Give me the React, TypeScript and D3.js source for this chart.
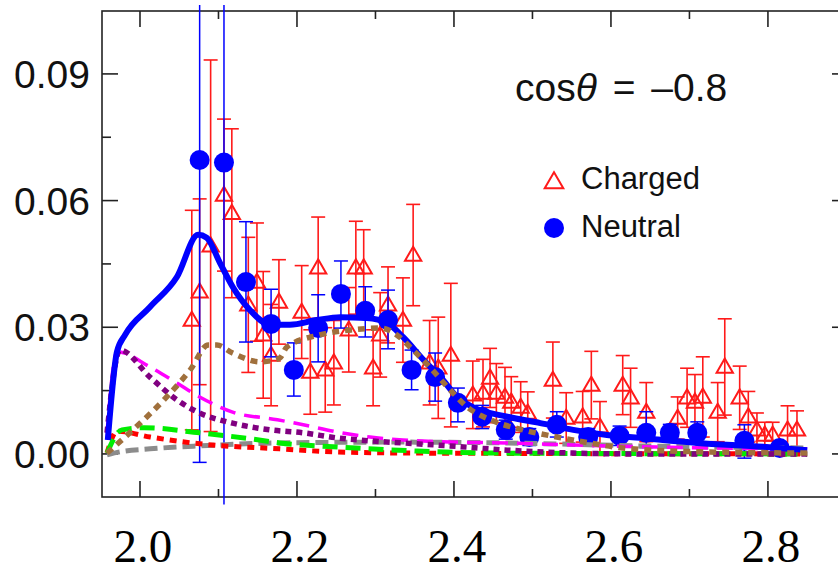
import React, { useEffect, useRef } from 'react';
import * as d3 from 'd3';

// neutral channel (blue dots)
const neutralX = [2.076, 2.107, 2.135, 2.167, 2.196, 2.227, 2.256, 2.287, 2.316, 2.346, 2.376, 2.405, 2.436, 2.466, 2.496, 2.531, 2.571, 2.611, 2.645, 2.675, 2.71, 2.77, 2.815];
const neutralY = [0.0696, 0.069, 0.0407, 0.0308, 0.0199, 0.0298, 0.0379, 0.0339, 0.0317, 0.0199, 0.0182, 0.0121, 0.0088, 0.0057, 0.004, 0.0069, 0.004, 0.0043, 0.005, 0.005, 0.005, 0.0031, 0.0014];
const neutralLo = [-0.002, -0.012, 0.0265, 0.023, 0.0137, 0.0218, 0.0298, 0.0277, 0.0249, 0.0152, 0.0125, 0.0076, 0.006, 0.0035, 0.002, 0.004, 0.002, 0.002, 0.0015, 0.003, 0.003, -0.001, 0.0];
const neutralHi = [0.1063, 0.1063, 0.055, 0.039, 0.0263, 0.0377, 0.0457, 0.0396, 0.0388, 0.0246, 0.0239, 0.0156, 0.0115, 0.008, 0.006, 0.01, 0.006, 0.0066, 0.01, 0.007, 0.0076, 0.0069, 0.0025];

// charged channel (red open triangles)
const chargedX = [2.066, 2.076, 2.09, 2.107, 2.117, 2.138, 2.149, 2.157, 2.167, 2.177, 2.206, 2.217, 2.227, 2.236, 2.247, 2.266, 2.275, 2.285, 2.297, 2.306, 2.316, 2.335, 2.348, 2.369, 2.38, 2.396, 2.424, 2.437, 2.446, 2.454, 2.465, 2.473, 2.485, 2.494, 2.526, 2.543, 2.564, 2.575, 2.586, 2.615, 2.625, 2.645, 2.685, 2.697, 2.707, 2.717, 2.736, 2.745, 2.764, 2.775, 2.786, 2.796, 2.806, 2.825, 2.837];
const chargedY = [0.0317, 0.0384, 0.0493, 0.0613, 0.057, 0.0353, 0.0407, 0.0282, 0.0234, 0.036, 0.0336, 0.0194, 0.0441, 0.0199, 0.0216, 0.0294, 0.0441, 0.0441, 0.0204, 0.0282, 0.0353, 0.0317, 0.0471, 0.0216, 0.0204, 0.0234, 0.014, 0.0144, 0.018, 0.0144, 0.0135, 0.0123, 0.0111, 0.0097, 0.0175, 0.0085, 0.0088, 0.0163, 0.0064, 0.0163, 0.0133, 0.0099, 0.0085, 0.0133, 0.0123, 0.0135, 0.0099, 0.0206, 0.0133, 0.0088, 0.0057, 0.0045, 0.0045, 0.0057, 0.0057];
const chargedErr = [0.026, 0.022, 0.044, 0.018, 0.02, 0.016, 0.014, 0.015, 0.012, 0.01, 0.011, 0.01, 0.012, 0.01, 0.01, 0.01, 0.011, 0.009, 0.009, 0.01, 0.009, 0.01, 0.012, 0.01, 0.012, 0.017, 0.008, 0.008, 0.007, 0.007, 0.007, 0.006, 0.006, 0.005, 0.009, 0.006, 0.006, 0.008, 0.006, 0.007, 0.007, 0.007, 0.005, 0.007, 0.0065, 0.0095, 0.007, 0.0114, 0.0075, 0.006, 0.004, 0.003, 0.003, 0.0057, 0.0045];

// model curves [x, y]
const totalCurve = [[1.959, 0.0033], [1.9707, 0.0242], [1.981, 0.0282], [2.0127, 0.0348], [2.047, 0.0419], [2.074, 0.0519], [2.085, 0.0512], [2.102, 0.0452], [2.118, 0.0396], [2.14, 0.0341], [2.166, 0.0306], [2.191, 0.0306], [2.225, 0.0317], [2.255, 0.0324], [2.289, 0.0322], [2.315, 0.031], [2.335, 0.0277], [2.361, 0.0223], [2.386, 0.0175], [2.404, 0.0135], [2.424, 0.0111], [2.468, 0.0088], [2.51, 0.0073], [2.552, 0.0057], [2.595, 0.0045], [2.637, 0.0038], [2.71, 0.0026], [2.794, 0.0017], [2.85, 0.0009]];
const magentaCurve = [[1.958, 0.005], [1.9707, 0.0242], [2.0127, 0.0206], [2.047, 0.0168], [2.076, 0.0135], [2.118, 0.0099], [2.175, 0.0081], [2.208, 0.0069], [2.251, 0.0052], [2.293, 0.004], [2.335, 0.0033], [2.395, 0.0028], [2.468, 0.0026], [2.552, 0.0021], [2.637, 0.0017], [2.85, 0.0012]];
const purpleCurve = [[1.958, 0.005], [1.9745, 0.0246], [2.0127, 0.0182], [2.047, 0.0128], [2.076, 0.0097], [2.118, 0.0073], [2.166, 0.0057], [2.208, 0.005], [2.251, 0.0038], [2.293, 0.0031], [2.335, 0.0026], [2.395, 0.0019], [2.468, 0.0009], [2.552, 0.0002], [2.637, 0.0], [2.85, 0.0]];
const brownCurve = [[1.958, 0.0002], [1.991, 0.0057], [2.034, 0.0135], [2.064, 0.0199], [2.087, 0.0258], [2.098, 0.0258], [2.118, 0.0239], [2.153, 0.0218], [2.178, 0.0227], [2.187, 0.0253], [2.229, 0.0282], [2.271, 0.0294], [2.306, 0.0298], [2.327, 0.0282], [2.348, 0.0246], [2.369, 0.0206], [2.395, 0.0152], [2.417, 0.0111], [2.446, 0.0081], [2.488, 0.0057], [2.531, 0.004], [2.573, 0.0026], [2.615, 0.0014], [2.713, 0.0005], [2.85, 0.0002]];
const greenCurve = [[1.958, 0.0002], [1.977, 0.0057], [2.006, 0.0062], [2.076, 0.005], [2.14, 0.0036], [2.178, 0.0026], [2.246, 0.0017], [2.353, 0.0007], [2.459, 0.0002], [2.85, 0.0]];
const redCurve = [[1.958, 0.0002], [1.971, 0.0054], [2.013, 0.004], [2.076, 0.0024], [2.178, 0.0012], [2.246, 0.0005], [2.353, 0.0002], [2.85, 0.0]];
const grayCurve = [[1.958, -0.0002], [1.9745, 0.0005], [2.013, 0.0012], [2.076, 0.0019], [2.178, 0.0026], [2.331, 0.0028], [2.468, 0.0026], [2.637, 0.0019], [2.85, 0.0014]];

const xTickLabels = ['2.0', '2.2', '2.4', '2.6', '2.8'];
const yTickLabels = ['0.00', '0.03', '0.06', '0.09'];

export default function App() {
  const ref = useRef(null);

  useEffect(() => {
    const width = 838;
    const height = 573;
    const left = 102, right = 848, top = 11, bottom = 497;

    const svg = d3.select(ref.current);
    svg.selectAll('*').remove();

    const x = d3.scaleLinear().domain([1.9516, 2.902]).range([left, right]);
    const y = d3.scaleLinear().domain([-0.0102, 0.1049]).range([bottom, top]);

    const sans = 'Liberation Sans, Arial, sans-serif';
    const serif = 'Liberation Serif, Times New Roman, serif';

    // frame
    svg.append('rect')
      .attr('x', left).attr('y', top)
      .attr('width', right - left).attr('height', bottom - top)
      .attr('fill', 'none').attr('stroke', '#222').attr('stroke-width', 1.6);

    // x ticks (inward, top and bottom)
    const xt = d3.range(20, 29).map(d => d / 10);
    xt.forEach((t, i) => {
      const len = i % 2 === 0 ? 16 : 8;
      svg.append('line').attr('x1', x(t)).attr('x2', x(t)).attr('y1', bottom).attr('y2', bottom - len)
        .attr('stroke', '#222').attr('stroke-width', 1.6);
      svg.append('line').attr('x1', x(t)).attr('x2', x(t)).attr('y1', top).attr('y2', top + len)
        .attr('stroke', '#222').attr('stroke-width', 1.6);
    });
    xTickLabels.forEach(lab => {
      svg.append('text').attr('x', x(+lab) + 3).attr('y', 562)
        .attr('text-anchor', 'middle').attr('font-family', serif).attr('font-size', 47)
        .attr('fill', '#000').text(lab);
    });

    // y ticks
    const yt = d3.range(0, 7).map(d => d * 0.015);
    yt.forEach((t, i) => {
      const len = i % 2 === 0 ? 16 : 9;
      svg.append('line').attr('x1', left).attr('x2', left + len).attr('y1', y(t)).attr('y2', y(t))
        .attr('stroke', '#222').attr('stroke-width', 1.6);
      svg.append('line').attr('x1', right).attr('x2', right - len).attr('y1', y(t)).attr('y2', y(t))
        .attr('stroke', '#222').attr('stroke-width', 1.6);
    });
    yTickLabels.forEach(lab => {
      svg.append('text').attr('x', 90).attr('y', y(+lab) + 14)
        .attr('text-anchor', 'end').attr('font-family', sans).attr('font-size', 39)
        .attr('fill', '#111').text(lab);
    });

    // charged data
    const cap = 7;
    const charged = chargedX.map((cx, i) => ({ x: cx, y: chargedY[i], e: chargedErr[i] }));
    const cg = svg.append('g').attr('stroke', '#ff1a1a').attr('stroke-width', 1.6).attr('fill', 'none');
    charged.forEach(d => {
      const px = x(d.x);
      const y1 = y(d.y + d.e), y0 = y(d.y - d.e);
      cg.append('line').attr('x1', px).attr('x2', px).attr('y1', y1).attr('y2', y0);
      cg.append('line').attr('x1', px - cap).attr('x2', px + cap).attr('y1', y1).attr('y2', y1);
      cg.append('line').attr('x1', px - cap).attr('x2', px + cap).attr('y1', y0).attr('y2', y0);
    });
    const tri = d3.symbol().type(d3.symbolTriangle).size(115);
    cg.selectAll('path.tri').data(charged).enter().append('path')
      .attr('transform', d => `translate(${x(d.x)},${y(d.y) + 1})`)
      .attr('d', tri).attr('stroke-width', 2);

    // neutral data
    const neutral = neutralX.map((nx, i) => ({ x: nx, y: neutralY[i], lo: neutralLo[i], hi: neutralHi[i] }));
    const ng = svg.append('g');
    neutral.forEach(d => {
      const px = x(d.x);
      const y1 = y(d.hi), y0 = y(d.lo);
      ng.append('line').attr('x1', px).attr('x2', px).attr('y1', y1).attr('y2', y0)
        .attr('stroke', '#0000ff').attr('stroke-width', 1.5);
      if (d.hi < 0.1) ng.append('line').attr('x1', px - cap).attr('x2', px + cap).attr('y1', y1).attr('y2', y1)
        .attr('stroke', '#0000ff').attr('stroke-width', 1.5);
      if (d.lo > -0.01) ng.append('line').attr('x1', px - cap).attr('x2', px + cap).attr('y1', y0).attr('y2', y0)
        .attr('stroke', '#0000ff').attr('stroke-width', 1.5);
    });
    ng.selectAll('circle').data(neutral).enter().append('circle')
      .attr('cx', d => x(d.x)).attr('cy', d => y(d.y)).attr('r', 10).attr('fill', '#0000ff');

    // model curves
    const line = d3.line().x(d => x(d[0])).y(d => y(d[1])).curve(d3.curveMonotoneX);
    const curves = [
      { data: grayCurve, color: '#8c8c8c', w: 5, dash: '13,6' },
      { data: redCurve, color: '#ff0000', w: 5, dash: '7,6' },
      { data: greenCurve, color: '#00ee00', w: 5, dash: '15,8' },
      { data: magentaCurve, color: '#ff00ff', w: 3.5, dash: '16,9' },
      { data: purpleCurve, color: '#800080', w: 5.5, dash: '6,5' },
      { data: totalCurve, color: '#0000ff', w: 6, dash: null },
      { data: brownCurve, color: '#a0703c', w: 5.5, dash: '7,6' },
    ];
    curves.forEach(c => {
      svg.append('path').datum(c.data)
        .attr('fill', 'none').attr('stroke', c.color).attr('stroke-width', c.w)
        .attr('stroke-dasharray', c.dash)
        .attr('d', line);
    });

    // title
    const title = svg.append('text').attr('x', 515).attr('y', 101)
      .attr('font-family', sans).attr('font-size', 39).attr('word-spacing', 5).attr('fill', '#111');
    title.append('tspan').text('cos');
    title.append('tspan').attr('font-style', 'italic').text('θ');
    title.append('tspan').text(' = –0.8');

    // legend
    svg.append('path').attr('transform', 'translate(554,183)')
      .attr('d', d3.symbol().type(d3.symbolTriangle).size(150))
      .attr('fill', 'none').attr('stroke', '#ff1a1a').attr('stroke-width', 2);
    svg.append('text').attr('x', 581).attr('y', 189).attr('font-family', sans)
      .attr('font-size', 31).attr('fill', '#111').text('Charged');
    svg.append('circle').attr('cx', 554).attr('cy', 228).attr('r', 10).attr('fill', '#0000ff');
    svg.append('text').attr('x', 581).attr('y', 237).attr('font-family', sans)
      .attr('font-size', 31).attr('fill', '#111').text('Neutral');

    svg.attr('width', width).attr('height', height);
  }, []);

  return (
    <svg ref={ref} width={838} height={573}
      style={{ position: 'absolute', left: 0, top: 0, background: '#fff', display: 'block' }} />
  );
}
